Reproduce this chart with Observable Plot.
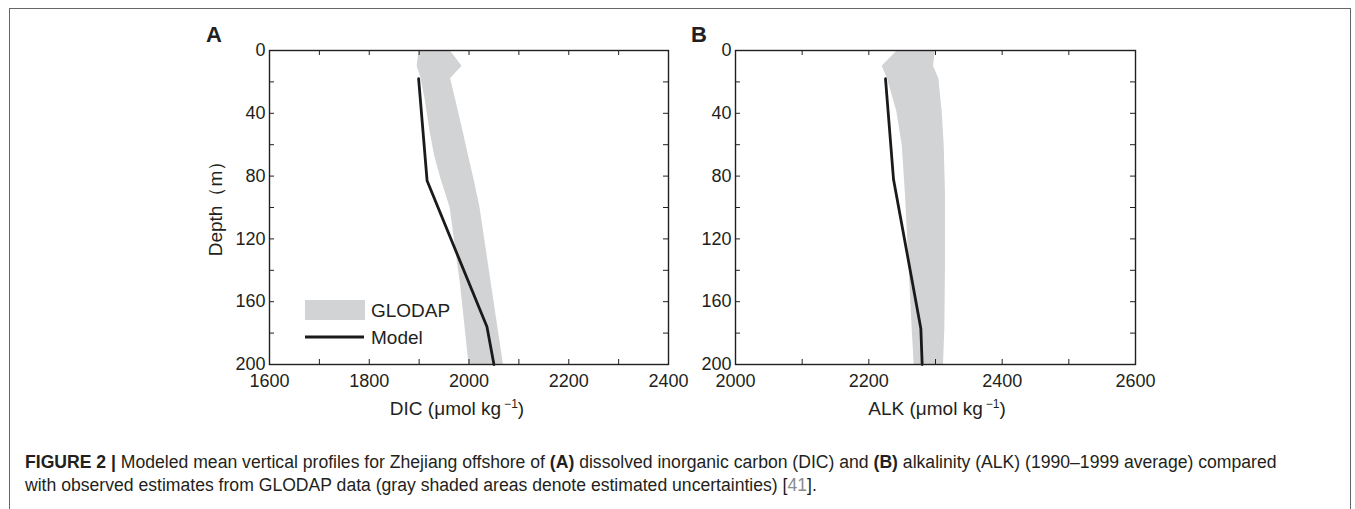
<!DOCTYPE html>
<html>
<head>
<meta charset="utf-8">
<script src="https://cdn.jsdelivr.net/npm/d3@7"></script>
<script src="https://cdn.jsdelivr.net/npm/@observablehq/plot@0.6"></script>
<style>
  html, body { margin: 0; padding: 0; background: #fff; }
  #root { position: relative; width: 1355px; height: 509px; overflow: hidden; font-family: "Liberation Sans", Arial, sans-serif; color: #231f20; }
  .abs { position: absolute; white-space: nowrap; }
  .border { position: absolute; left: 9px; top: 8px; width: 1342px; height: 600px; border: 1px solid #666; box-sizing: border-box; }
  .plot svg { overflow: visible; }
  .axlab { font-size: 19px; line-height: 1; }
  .axlab sup { font-size: 12px; vertical-align: 7px; margin-left: 3px; }
  .panel { font-size: 22px; font-weight: bold; line-height: 1; }
  .caption { font-size: 17.6px; line-height: 23px; color: #231f20; }
  .caption b { font-weight: bold; }
  .ref { color: #8a8c8e; }
</style>
</head>
<body>
<div id="root">
  <div class="border"></div>
  <div id="plotA" class="abs plot" style="left:180px; top:20px;"></div>
  <div id="plotB" class="abs plot" style="left:646px; top:20px;"></div>

  <div class="abs panel" style="left:206px; top:24px;">A</div>
  <div class="abs panel" style="left:691px; top:24px;">B</div>

  <div class="abs axlab" style="left:215px; top:204px; transform: translate(-50%,-50%) rotate(-90deg);">Depth（m）</div>
  <div class="abs axlab" style="left:457px; top:408px; transform: translate(-50%,-50%);">DIC (μmol kg<sup>−1</sup>)</div>
  <div class="abs axlab" style="left:937px; top:408px; transform: translate(-50%,-50%);">ALK (μmol kg<sup>−1</sup>)</div>

  <div class="abs caption" style="left:25px; top:451px;"><b>FIGURE 2 |</b> Modeled mean vertical profiles for Zhejiang offshore of <b>(A)</b> dissolved inorganic carbon (DIC) and <b>(B)</b> alkalinity (ALK) (1990–1999 average) compared<br>with observed estimates from GLODAP data (gray shaded areas denote estimated uncertainties) [<span class="ref">41</span>].</div>
</div>
<script>
// ---------- data ----------
const dicTicks = [1600, 1700, 1800, 1900, 2000, 2100, 2200, 2300, 2400];
const dicLabels = [1600, 1800, 2000, 2200, 2400];
const alkTicks = [2000, 2100, 2200, 2300, 2400, 2500, 2600];
const alkLabels = [2000, 2200, 2400, 2600];
const depthTicks = [0, 20, 40, 60, 80, 100, 120, 140, 160, 180, 200];
const depthLabels = [0, 40, 80, 120, 160, 200];

// GLODAP uncertainty band, panel A (DIC)
const glodapDicDepth = [0, 10, 18, 31, 50, 67, 82, 100, 149, 200];
const glodapDicLo    = [1900, 1896, 1904, 1912, 1921, 1931, 1944, 1962, 1983, 2000];
const glodapDicHi    = [1962, 1986, 1963, 1973, 1987, 1999, 2010, 2022, 2045, 2069];
// Model, panel A
const modelDicDepth = [18, 83, 176, 200];
const modelDic      = [1899, 1916, 2036, 2050];

// GLODAP uncertainty band, panel B (ALK)
const glodapAlkDepth = [0, 10, 18, 39, 60, 92, 135, 177, 200];
const glodapAlkLo    = [2243, 2220, 2228, 2242, 2250, 2255, 2260, 2265, 2268];
const glodapAlkHi    = [2300, 2297, 2305, 2310, 2313, 2315, 2315, 2314, 2312];
// Model, panel B
const modelAlkDepth = [18, 50, 82, 177, 200];
const modelAlk      = [2225, 2231, 2237, 2278, 2280];

const legendLabels = ["GLODAP", "Model"];

// ---------- styling ----------
const BAND = "#d1d3d4";
const INK = "#231f20";
const FONT = "Liberation Sans, Arial, sans-serif";
const W = 510, H = 404, ML = 89, MT = 30, MB = 60;

function panel({xDomain, xTicks, xLabels, bandDepth, bandLo, bandHi, modelDepth, modelX, frameW}) {
  const MR = W - ML - frameW;
  const fh = H - MT - MB;
  const band = bandDepth.map((d, i) => ({depth: d, lo: bandLo[i], hi: bandHi[i]}));
  const model = modelDepth.map((d, i) => ({depth: d, x: modelX[i]}));
  return Plot.plot({
    width: W, height: H,
    marginLeft: ML, marginRight: MR, marginTop: MT, marginBottom: MB,
    style: {background: "transparent", fontFamily: FONT, color: INK, overflow: "visible"},
    x: {domain: xDomain},
    y: {domain: [0, 200], reverse: true},
    marks: [
      Plot.areaX(band, {y: "depth", x1: "lo", x2: "hi", fill: BAND, curve: "linear"}),
      Plot.line(model, {x: "x", y: "depth", stroke: "#1a1a1a", strokeWidth: 2.8, curve: "linear"}),
      // inward ticks on all four sides
      Plot.ruleX(xTicks, {x: d => d, insetBottom: fh - 5, stroke: INK, strokeWidth: 1}),
      Plot.ruleX(xTicks, {x: d => d, insetTop: fh - 5, stroke: INK, strokeWidth: 1}),
      Plot.ruleY(depthTicks, {y: d => d, insetRight: frameW - 5, stroke: INK, strokeWidth: 1}),
      Plot.ruleY(depthTicks, {y: d => d, insetLeft: frameW - 5, stroke: INK, strokeWidth: 1}),
      Plot.axisX({ticks: xLabels, tickSize: 0, tickPadding: 10, fontSize: 18, label: null, tickFormat: d => String(d), fill: INK}),
      Plot.axisY({ticks: depthLabels, tickSize: 0, tickPadding: 4, fontSize: 18, label: null, tickFormat: d => String(d), fill: INK}),
      Plot.frame({stroke: INK, strokeWidth: 1.4})
    ]
  });
}

document.getElementById("plotA").append(panel({
  xDomain: [1600, 2400], xTicks: dicTicks, xLabels: dicLabels,
  bandDepth: glodapDicDepth, bandLo: glodapDicLo, bandHi: glodapDicHi,
  modelDepth: modelDicDepth, modelX: modelDic, frameW: 399
}));
document.getElementById("plotB").append(panel({
  xDomain: [2000, 2600], xTicks: alkTicks, xLabels: alkLabels,
  bandDepth: glodapAlkDepth, bandLo: glodapAlkLo, bandHi: glodapAlkHi,
  modelDepth: modelAlkDepth, modelX: modelAlk, frameW: 400
}));

// ---------- legend (panel A) ----------
const root = document.getElementById("root");
const leg = d3.select(root).append("svg")
  .attr("class", "abs")
  .style("left", "300px").style("top", "295px")
  .attr("width", 140).attr("height", 52)
  .style("overflow", "visible");
const items = leg.selectAll("g").data(legendLabels).join("g")
  .attr("transform", (d, i) => `translate(0, ${i === 0 ? 15 : 42})`);
items.filter((d, i) => i === 0).append("rect")
  .attr("x", 5).attr("y", -10).attr("width", 60).attr("height", 20).attr("fill", BAND);
items.filter((d, i) => i === 1).append("line")
  .attr("x1", 5).attr("x2", 64).attr("y1", 0).attr("y2", 0)
  .attr("stroke", "#1a1a1a").attr("stroke-width", 2.8);
items.append("text")
  .attr("x", 71).attr("y", 0).attr("dy", "0.35em")
  .attr("font-family", FONT).attr("font-size", 19).attr("fill", INK)
  .text(d => d);
</script>
</body>
</html>
